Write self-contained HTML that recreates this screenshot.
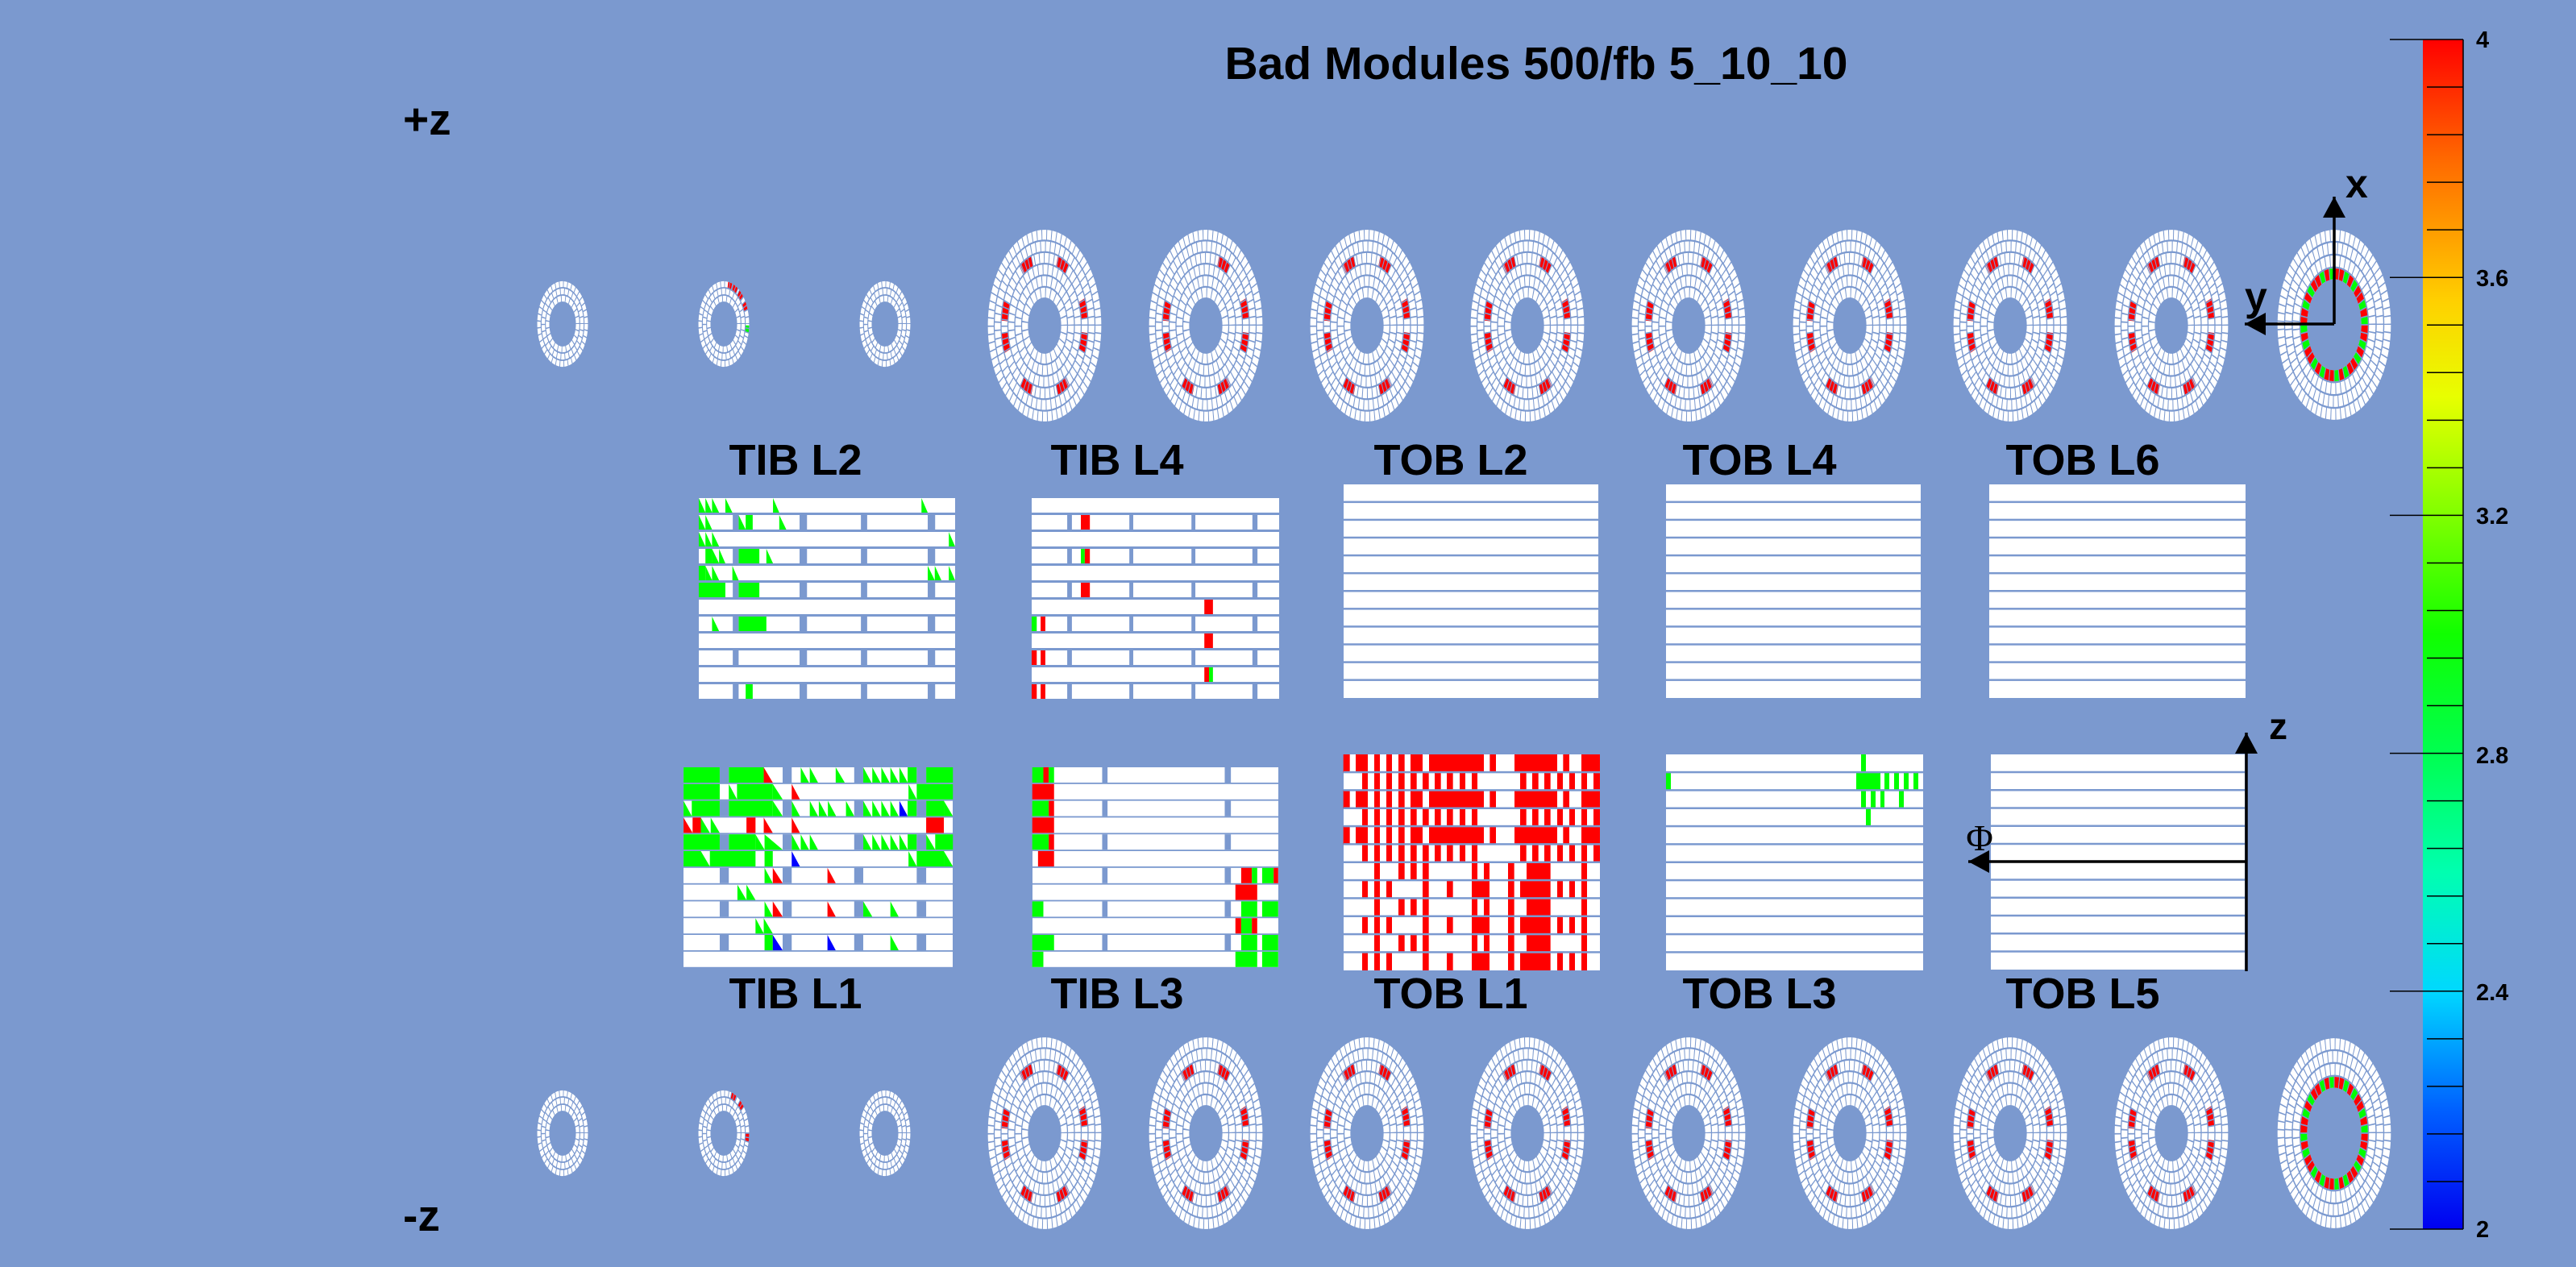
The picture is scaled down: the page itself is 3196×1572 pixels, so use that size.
<!DOCTYPE html>
<html><head><meta charset="utf-8"><style>
html,body{margin:0;padding:0;background:#7b99cf;}
svg{display:block}
text{font-family:"Liberation Sans",sans-serif;font-weight:bold;fill:#000}
</style></head><body>
<svg id="s" width="3196" height="1572" viewBox="0 0 3196 1572" xmlns="http://www.w3.org/2000/svg">
<defs>
<linearGradient id="cb" x1="0" y1="1" x2="0" y2="0">
<stop offset="0" stop-color="#0000f0"/>
<stop offset="0.1" stop-color="#0060ff"/>
<stop offset="0.2" stop-color="#00d8ff"/>
<stop offset="0.3" stop-color="#00ffb0"/>
<stop offset="0.4" stop-color="#00ff50"/>
<stop offset="0.5" stop-color="#10ff00"/>
<stop offset="0.6" stop-color="#80ff00"/>
<stop offset="0.7" stop-color="#e8ff00"/>
<stop offset="0.78" stop-color="#ffd000"/>
<stop offset="0.9" stop-color="#ff6800"/>
<stop offset="1" stop-color="#ff0000"/>
</linearGradient>
</defs>
<rect width="3196" height="1572" fill="#7b99cf"/>
<g id="g"></g>
<text x="1906" y="98" font-size="57" text-anchor="middle">Bad Modules 500/fb 5_10_10</text>
<text x="500" y="167" font-size="55">+z</text>
<text x="500" y="1527" font-size="55">-z</text>
<g font-size="54" text-anchor="middle">
<text x="987" y="589">TIB L2</text><text x="1386" y="589">TIB L4</text><text x="1800" y="589">TOB L2</text><text x="2183" y="589">TOB L4</text><text x="2584" y="589">TOB L6</text>
<text x="987" y="1251">TIB L1</text><text x="1386" y="1251">TIB L3</text><text x="1800" y="1251">TOB L1</text><text x="2183" y="1251">TOB L3</text><text x="2584" y="1251">TOB L5</text>
</g>
<text x="2910" y="245" font-size="50">x</text>
<text x="2785" y="385" font-size="50">y</text>
<text x="2815" y="917" font-size="46">z</text>
<text x="2456" y="1055" font-size="46" text-anchor="middle" style="font-family:'Liberation Serif',serif;font-weight:normal">Φ</text>
<rect x="3006" y="49" width="50" height="1476" fill="url(#cb)"/>
<line x1="3056" y1="49" x2="3056" y2="1525" stroke="#000" stroke-width="1.5"/>
<g id="cbt" stroke="#000" stroke-width="1.5"></g>
<g font-size="29">
<text x="3072" y="59">4</text><text x="3072" y="355">3.6</text><text x="3072" y="650">3.2</text><text x="3072" y="947">2.8</text><text x="3072" y="1241">2.4</text><text x="3072" y="1535">2</text>
</g>
</svg>
<script>
const NS="http://www.w3.org/2000/svg";
const G=document.getElementById('g');
function el(t,a,p){const e=document.createElementNS(NS,t);for(const k in a)e.setAttribute(k,a[k]);(p||G).appendChild(e);return e;}
const BG="#7b99cf";
const cbt=document.getElementById('cbt');
for(let i=0;i<=25;i++){const y=49+i*1476/25;const major=i%5==0;el('line',{x1:major?2965:3011,y1:y,x2:3056,y2:y},cbt);}
function arcPath(r,a0,a1){
  const p0=[r*Math.cos(a0*Math.PI/180),-r*Math.sin(a0*Math.PI/180)],p1=[r*Math.cos(a1*Math.PI/180),-r*Math.sin(a1*Math.PI/180)];
  return `M${p0[0]},${p0[1]} A${r},${r} 0 0 0 ${p1[0]},${p1[1]}`;
}
function disk(cx,cy,rx,ry,hrx,nr,opts){
  const g=el('g',{transform:`translate(${cx},${cy}) scale(1,${ry/rx})`});
  const rh=hrx, ro=rx; const w=(ro-rh)/nr;
  const rg=opts.rg||1.1, sg=opts.sg||0.9;
  for(let i=0;i<nr;i++){
    const r=rh+w*(i+0.5); const sw=w-rg;
    const C=2*Math.PI*r; const N=Math.max(12,Math.round(C/(opts.seg||5.5)));
    el('circle',{cx:0,cy:0,r:r,fill:'none',stroke:'#fff','stroke-width':sw,'stroke-dasharray':`${C/N-sg} ${sg}`},g);
  }
  if(opts.red){
    const r=rh+w*(opts.redRing+0.5);
    for(const [a0,a1,c] of opts.red){
      el('path',{d:arcPath(r,a0,a1),fill:'none',stroke:c||'#f00','stroke-width':w-rg},g);
      // radial separators
      for(let a=a0;a<=a1;a+=(opts.sepStep||5)){
        const ca=Math.cos(a*Math.PI/180),sa=-Math.sin(a*Math.PI/180);
        el('line',{x1:(r-w/2)*ca,y1:(r-w/2)*sa,x2:(r+w/2)*ca,y2:(r+w/2)*sa,stroke:BG,'stroke-width':sg},g);
      }
    }
  }
}
const redStd=[[56,72],[108,124],[160,176],[186,202],[236,252],[288,304],[338,354],[6,22]];
[1296,1496,1696,1895,2095,2295,2494,2694].forEach((x,i)=>{
  [404,1406].forEach(y=>{
    let red=redStd.slice();
    if(i==1&&y==404) red=redStd.filter((r,j)=>j!=1);
    disk(x,y,71,120,20,6,{red:red,redRing:3,seg:6,rg:1.3,sg:1.0});
  });
});
function lastDisk(y){
  const cols=[];
  for(let a=0;a<360;a+=9){const c=((a*7)%5<2)?'#0f0':'#f00';cols.push([a,a+9,c]);}
  disk(2896,y,71,119,33,4,{red:cols,redRing:0,seg:6,rg:1.4,sg:1.0,sepStep:9});
}
lastDisk(403);lastDisk(1406);
[698,898,1098].forEach((x,i)=>{[402,1406].forEach(y=>{
  let red=null;
  if(i==1) red=[[20,32],[40,52],[56,68],[70,80],[-12,-2,'#0f0']];
  if(i==1&&y==1406) red=[[60,72],[38,50],[-12,0]];
  disk(x,y,32,54,16,3,{red:red,redRing:2,seg:5,rg:1.1,sg:0.9,sepStep:6});
});});
function tib(x0,x1,y0,pitch,rowsH,gaps,gapRows,items,sx,ox){
  for(let r=0;r<12;r++){
    const y=y0+r*pitch;
    el('rect',{x:x0,y:y,width:x1-x0,height:rowsH,fill:'#fff'});
    const its=items[r]||[];
    for(const it of its){
      const [t,a,b]=it; const xa=ox+a/sx, xb=ox+b/sx;
      const col={g:'#0f0',G:'#0f0',r:'#f00',R:'#f00',b:'#00f',B:'#00f'}[t];
      if(t==t.toLowerCase()) el('rect',{x:xa,y:y,width:xb-xa,height:rowsH,fill:col});
      else el('polygon',{points:`${xa},${y} ${xa},${y+rowsH} ${xb},${y+rowsH}`,fill:col});
    }
    if(gapRows(r)) for(const [a,b] of gaps){el('rect',{x:ox+a/sx,y:y,width:(b-a)/sx,height:rowsH,fill:BG});}
  }
}
tib(848,1182,952,20.8,19,[[143,165],[296,318],[470,492],[622,645]],r=>r%2==0,[
 [['g',55,143],['g',165,250],['R',250,272],['G',340,360],['G',362,382],['G',425,447],['G',492,512],['G',514,534],['G',536,556],['G',558,578],['G',580,600],['g',600,622],['g',645,710]],
 [['g',55,143],['G',165,185],['g',185,272],['G',272,296],['R',318,338],['G',602,622],['g',622,710]],
 [['G',55,75],['g',75,143],['g',165,272],['G',272,296],['G',318,338],['G',362,382],['G',384,404],['G',406,426],['G',450,470],['G',492,512],['G',514,534],['G',536,556],['G',558,578],['B',580,600],['g',600,622],['g',645,688],['G',688,710]],
 [['R',55,77],['r',77,97],['G',97,119],['G',121,143],['r',208,230],['R',250,272],['R',318,338],['r',645,688]],
 [['g',55,143],['g',165,230],['G',230,252],['G',252,296],['G',318,338],['G',340,360],['G',362,382],['G',492,512],['G',514,534],['G',536,556],['G',558,578],['G',580,600],['g',600,622],['G',645,667],['g',667,710]],
 [['g',55,97],['G',97,119],['g',119,230],['g',252,272],['B',318,338],['G',602,622],['g',622,688],['G',688,710]],
 [['G',252,272],['R',272,296],['R',405,425]],
 [['G',186,208],['G',208,230]],
 [['G',252,272],['R',272,296],['R',405,425],['G',492,514],['G',558,578]],
 [['G',230,250],['G',250,272]],
 [['g',252,272],['B',272,296],['B',405,425],['G',558,578]],
 []
],1.96,820);
tib(1281,1586,952,20.8,19,[[1073,1086],[1371,1386]],r=>r%2==0,[
 [['g',903,930],['r',930,943],['g',943,956]],
 [['r',903,956]],
 [['g',903,943],['r',943,956]],
 [['r',903,956]],
 [['g',903,943],['r',943,956]],
 [['r',917,956]],
 [['r',1411,1437],['g',1437,1450],['g',1462,1490],['r',1490,1501]],
 [['r',1397,1450]],
 [['g',903,930],['g',1411,1450],['g',1462,1501]],
 [['r',1397,1411],['g',1411,1437],['r',1437,1450]],
 [['g',903,956],['g',1411,1450],['g',1462,1501]],
 [['g',903,930],['g',1397,1450],['g',1462,1501]]
],1.96,820);
tib(867,1185,618,21,18,[[122,137],[293,312],[450,466],[621,640]],r=>r%2==1,[
 [['G',35,52],['G',52,69],['G',69,87],['G',103,121],['G',225,241],['G',605,621]],
 [['G',35,52],['G',52,69],['G',137,155],['g',155,173],['G',241,259]],
 [['G',35,52],['G',52,69],['G',69,87],['G',675,691]],
 [['g',52,69],['G',69,87],['G',87,103],['g',137,190],['G',208,225]],
 [['g',35,52],['G',52,69],['G',69,87],['G',121,137],['G',621,639],['G',639,656],['G',675,691]],
 [['g',35,103],['g',137,190]],
 [],
 [['G',69,87],['g',137,208]],
 [],[],[],
 [['g',155,173]]
],2.063,850);
tib(1280,1587,618,21,18,[[978,990],[1137,1147],[1296,1306],[1452,1465]],r=>r%2==1,[
 [],[['r',1013,1036]],[],[['g',1013,1023],['r',1023,1036]],[],[['r',1013,1036]],
 [['r',1329,1351]],[['g',887,900],['r',910,922]],[['r',1329,1351]],[['r',887,900],['r',910,922]],
 [['r',1329,1341],['g',1341,1351]],[['r',887,900],['r',910,922]]
],2.063,850);
function tob(x0,x1,y0,y1,cells){
  el('rect',{x:x0,y:y0,width:x1-x0,height:y1-y0,fill:'#fff'});
  const p=(y1-y0)/12;
  if(cells) cells.forEach((row,r)=>{row.forEach(([a,b,c])=>el('rect',{x:a,y:y0+r*p,width:b-a,height:p,fill:c}));});
  for(let r=1;r<12;r++) el('rect',{x:x0,y:y0+r*p-1.5,width:x1-x0,height:2.5,fill:BG});
}
const A=[[20,44],[66,111],[135,156],[180,201],[225,248],[270,315],[339,543],[565,588],[657,816],[838,861],[906,975]];
const B=[[90,111],[135,156],[180,201],[225,248],[270,293],[315,338],[360,383],[405,428],[453,474],[498,519],[678,701],[723,746],[768,791],[816,837],[861,882],[906,927],[951,975]];
const Cc=[[135,156],[225,248],[270,293],[315,338],[498,519],[543,564],[633,656],[702,791],[906,927]];
const D=[[90,111],[135,156],[180,201],[315,338],[405,428],[498,564],[633,656],[678,791],[816,837],[861,882],[906,927]];
const cv=a=>a.map(([x,y])=>[1660+x/3,1660+y/3,'#f00']);
tob(1667,1985,936,1204,[A,B,A,B,A,B,Cc,D,Cc,D,Cc,D].map(cv));
tob(1667,1983,601,866);tob(2067,2383,601,866);tob(2468,2786,601,866);
const gr='#0f0';
tob(2067,2386,936,1204,[[[2309,2315,gr]],[[2067,2073,gr],[2303,2333,gr],[2338,2344,gr],[2350,2356,gr],[2362,2368,gr],[2374,2380,gr]],[[2309,2315,gr],[2321,2327,gr],[2333,2338,gr],[2356,2362,gr]],[[2315,2321,gr]]]);
tob(2470,2785,936,1203);
function arrow(x1,y1,x2,y2){
  el('line',{x1:x1,y1:y1,x2:x2,y2:y2,stroke:'#000','stroke-width':3.5});
  const dx=x2-x1,dy=y2-y1,L=Math.hypot(dx,dy),ux=dx/L,uy=dy/L,h=26,w=14;
  const bx=x2-ux*h,by=y2-uy*h;
  el('polygon',{points:`${x2},${y2} ${bx-uy*w},${by+ux*w} ${bx+uy*w},${by-ux*w}`,fill:'#000'});
}
arrow(2896,402,2896,244);arrow(2896,402,2785,402);
arrow(2787,1205,2787,909);arrow(2787,1069,2442,1069);
</script>
</body></html>
